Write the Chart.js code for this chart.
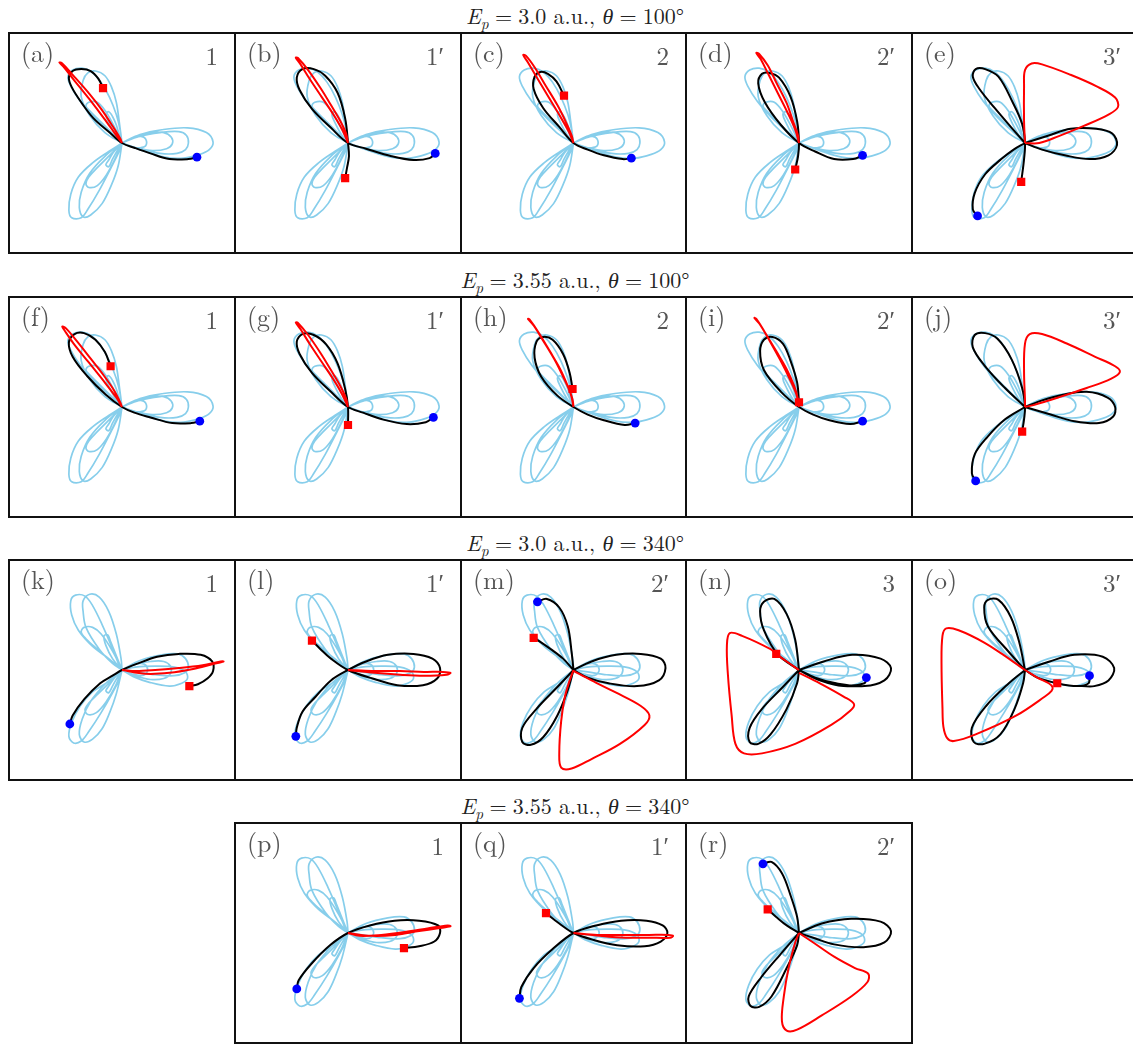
<!DOCTYPE html>
<html><head><meta charset="utf-8">
<script src="https://cdn.jsdelivr.net/npm/chart.js@4.4.1/dist/chart.umd.min.js"></script>
<style>
html,body{margin:0;padding:0;background:#fff;}
body{width:1133px;height:1046px;overflow:hidden;position:relative;font-family:'Latin Modern Roman','CMU Serif','Liberation Serif','DejaVu Serif',serif;}
canvas{position:absolute;}
.frame{position:absolute;border:2px solid #111;box-sizing:border-box;pointer-events:none;}
.lab{position:absolute;color:#555;font-size:26px;line-height:1;white-space:nowrap;}
.tag{position:absolute;color:#555;font-size:25px;line-height:1;text-align:right;width:50px;white-space:nowrap;}
.title{position:absolute;left:0;width:1150px;text-align:center;font-size:22px;line-height:24px;color:#222;white-space:nowrap;}
.title sub{font-size:0.7em;vertical-align:-0.3em;line-height:0;}
.title .eq{margin:0 0.28em;}
</style></head><body>
<script>
// ---------------- DATA ----------------
const panelIds  = ['a','b','c','d','e','f','g','h','i','j','k','l','m','n','o','p','q','r'];
const panelTags = ['1','1′','2','2′','3′','1','1′','2','2′','3′','1','1′','2′','3','3′','1','1′','2′'];
const fieldEp    = ['3.0','3.55','3.0','3.55'];
const fieldTheta = ['100','100','340','340'];

// background (light blue) petals, theta = 100 deg
const blue100 = [
  [0,0, 19,9, 42,14, 69,16, 89,11, 96,1, 92,-7, 82,-12, 65,-16, 45,-15, 22,-8, 0,0],
  [0,0, 18,7, 40,11, 60,12, 68,8, 70,0, 67,-7, 58,-11, 40,-11, 18,-6, 0,0],
  [0,0, 14,7, 30,11, 44,11, 52,6, 53,-1, 47,-6, 32,-8, 15,-5, 0,0],
  [0,0, 10,5, 20,7, 25,4, 25,-3, 19,-5, 10,-4, 0,0],
  [0,0, -14,13, -30,28, -44,44, -54,60, -57,70, -52,77, -42,79, -32,75, -22,64, -13,48, -6,30, -2,14, 0,0],
  [0,0, -3,23, -6,43, -11,59, -18,71, -28,76, -36,74, -41,66, -43,49, -34,29, -18,11, 0,0],
  [0,0, -11,11, -24,24, -34,34, -38,39, -35,43, -26,43, -17,33, -8,17, 0,0],
  [0,0, -3,9, -6,19, -10,28, -14,33, -17,30, -13,20, -7,9, 0,0],
  [0,0, -14,-9, -31,-21, -46,-36, -54,-54, -56,-71, -53,-79, -43,-79, -36,-70, -24,-50, -12,-27, -3,-9, 0,0],
  [0,0, -4,-24, -11,-44, -21,-64, -33,-76, -41,-78, -45,-68, -43,-52, -34,-32, -18,-14, 0,0],
  [0,0, -12,-12, -25,-25, -35,-36, -38,-43, -35,-47, -26,-45, -16,-33, -7,-16, 0,0],
  [0,0, -5,-5, -10,-11, -14,-18, -17,-23, -14,-25, -10,-17, -5,-8, 0,0]
];
// background (light blue) petals, theta = 340 deg
const blue340 = [
  [0,0, 19,10, 42,16, 59,17, 67,12, 70,3, 66,-3, 55,-6, 35,-5, 15,-2, 0,0],
  [0,0, 14,3, 35,4, 55,3, 67,-2, 69,-9, 63,-14, 50,-17, 29,-13, 12,-7, 0,0],
  [0,0, 14,6, 30,9, 44,9, 51,4, 51,-4, 44,-9, 30,-10, 14,-6, 0,0],
  [0,0, 10,5, 20,7, 26,4, 26,-3, 20,-6, 10,-4, 0,0],
  [0,0, -14,12, -31,25, -46,42, -53,58, -54,73, -49,79, -39,78, -31,68, -21,48, -11,25, -3,5, 0,0],
  [0,0, -1,12, -6,38, -14,62, -24,77, -34,80, -41,73, -41,62, -38,45, -24,22, -10,7, 0,0],
  [0,0, -12,10, -26,22, -38,33, -43,40, -40,45, -31,45, -22,38, -10,20, 0,0],
  [0,0, -4,10, -8,20, -12,30, -15,37, -19,36, -17,26, -10,12, 0,0],
  [0,0, -14,-12, -31,-23, -44,-38, -53,-55, -56,-70, -51,-77, -43,-75, -35,-65, -22,-45, -10,-24, -2,-8, 0,0],
  [0,0, -6,-25, -13,-45, -21,-62, -31,-73, -40,-76, -45,-68, -42,-52, -33,-33, -17,-14, 0,0],
  [0,0, -12,-12, -25,-25, -35,-35, -39,-42, -36,-47, -27,-45, -17,-34, -7,-17, 0,0],
  [0,0, -5,-5, -10,-11, -14,-17, -17,-22, -14,-24, -10,-17, -5,-8, 0,0]
];

// black trajectories (segments)
const black_a = [[79,-15, 70,-17, 50,-17, 30,-11, 13,-5, 0,0, -13,11, -30,26, -43,43, -53,59, -56,69, -52,76, -43,78, -33,76, -25,68, -20,58]];
const black_b = [[92,-11, 86,-16, 69,-18, 46,-14, 19,-6, 0,0, -18,16, -38,36, -51,56, -54,69, -48,78, -36,78, -24,71, -11,53, -3,26, 0,0, 1,-14, -1,-26, -3,-37]];
const black_c = [[61,-16, 52,-17, 32,-13, 15,-7, 0,0, -15,17, -32,37, -42,57, -41,70, -35,75, -27,73, -18,65, -10,50]];
const black_d = [[67,-13, 57,-17, 37,-17, 17,-9, 0,0, -19,19, -36,43, -43,63, -39,73, -31,74, -21,69, -9,49, -2,23, 0,0, -1,-14, -4,-28]];
const black_e = [[-50,-77, -55,-70, -53,-53, -42,-33, -25,-17, -12,-7, 0,0],
                 [0,0, 18,-7, 42,-13, 68,-17, 88,-13, 97,-2, 92,10, 75,15, 48,15, 25,8, 0,0],
                 [0,0, -15,17, -32,37, -48,57, -55,70, -52,78, -42,78, -28,70, -13,43, -3,20, 0,0, -1,-17, -4,-41]];
const black_f = [[82,-15, 73,-17, 53,-17, 30,-11, 13,-6, 0,0, -17,13, -37,33, -52,53, -56,68, -50,77, -40,78, -28,71, -18,58, -12,43]];
const black_g = [[90,-11, 82,-16, 62,-18, 36,-13, 16,-6, 0,0, -18,16, -38,36, -51,56, -54,69, -48,77, -36,76, -23,66, -11,46, -3,19, 0,0, 0,-19]];
const black_h = [[65,-17, 54,-19, 32,-14, 15,-8, 0,0, -17,12, -34,32, -41,52, -39,69, -32,74, -22,71, -11,56, -4,36, -1,19]];
const black_i = [[67,-15, 54,-18, 32,-14, 15,-8, 0,0, -19,16, -37,39, -41,59, -37,71, -28,74, -17,67, -9,49, -2,26, 0,5]];
const black_j = [[-52,-78, -56,-70, -53,-50, -40,-32, -21,-13, 0,0],
                 [0,0, 27,-8, 52,-15, 78,-17, 93,-10, 95,0, 87,10, 65,16, 40,13, 18,7, 0,0],
                 [0,0, -21,20, -42,43, -55,63, -53,76, -42,78, -29,72, -14,50, -3,20, 0,0, -1,-13, -3,-26]];
const black_k = [[-55,-57, -52,-48, -40,-31, -23,-14, -10,-6, 0,0, 17,7, 37,14, 60,17, 83,16, 95,9, 96,-1, 90,-9, 80,-15, 71,-17]];
const black_l = [[-55,-70, -54,-61, -48,-44, -34,-28, -18,-11, 0,0, 19,9, 42,16, 69,17, 89,12, 97,2, 94,-9, 79,-16, 52,-16, 26,-9, 0,0, -18,12, -29,22, -38,31]];
const black_m = [[-38,72, -28,75, -15,66, -6,46, -2,19, 0,0],
                 [0,0, 19,9, 45,16, 71,17, 92,12, 97,2, 90,-11, 67,-17, 37,-14, 15,-8, 0,0],
                 [0,0, -17,-18, -39,-41, -54,-61, -54,-76, -45,-79, -32,-71, -17,-48, -6,-21, 0,0],
                 [0,0, -11,12, -24,22, -37,31, -42,34]];
const black_n = [[71,-8, 69,-14, 47,-17, 22,-11, 0,0],
                 [0,0, -22,16, -37,42, -41,62, -37,72, -26,75, -13,59, -4,32, 0,0],
                 [0,0, 26,9, 56,16, 86,12, 97,2, 90,-11, 69,-17, 39,-14, 17,-8, 0,0],
                 [0,0, -17,-18, -39,-41, -52,-61, -52,-76, -43,-78, -30,-68, -13,-41, -2,-14, 0,0],
                 [0,0, -13,9, -24,17]];
const black_o = [[68,-6, 67,-14, 55,-17, 34,-14, 13,-8, 0,0],
                 [0,0, 26,9, 52,16, 82,14, 94,2, 88,-11, 73,-17, 60,-17],
                 [0,0, -17,19, -39,46, -43,66, -39,74, -28,74, -15,56, -6,29, 0,0],
                 [0,0, -17,-14, -41,-38, -56,-61, -54,-76, -43,-78, -26,-68, -11,-41, -2,-14, 0,0]];
const black_p = [[-54,-59, -52,-50, -39,-33, -19,-13, 0,0, 23,8, 49,13, 75,13, 95,8, 97,0, 91,-9, 75,-14, 59,-16]];
const black_q = [[-57,-69, -55,-57, -42,-37, -22,-17, 0,0, 24,8, 50,13, 77,13, 94,8, 99,0, 92,-9, 75,-14, 46,-13, 20,-7, 0,0, -15,10, -29,21]];
const black_r = [[-38,73, -29,75, -18,63, -9,40, -2,17, 0,0],
                 [0,0, 24,10, 55,15, 86,12, 97,2, 90,-10, 68,-15, 37,-12, 15,-5, 0,0],
                 [0,0, -20,-23, -40,-47, -53,-67, -51,-77, -42,-78, -29,-67, -13,-37, -2,-13, 0,0],
                 [0,0, -13,8, -24,17, -33,25]];

// red trajectories
const red_a = [[0,0, -6,8, -19,26, -35,47, -51,67, -62,81, -66,85, -63,84, -52,72, -37,55, -22,36, -10,18, -2,5, 0,0]];
const red_b = [[0,0, -6,14, -16,31, -28,49, -40,67, -50,83, -55,90, -53,90, -42,77, -29,58, -18,40, -8,23, -2,10, 0,0]];
const red_c = [[0,0, -5,12, -14,28, -26,48, -38,68, -48,85, -53,93, -50,92, -41,80, -29,60, -17,40, -8,22, -2,8, 0,0]];
const red_d = [[0,0, -4,14, -12,32, -22,52, -32,72, -40,88, -45,95, -42,94, -33,82, -23,62, -13,42, -6,22, -1,8, 0,0]];
const red_e = [[0,0, -1,23, -1,60, 0,77, 7,84, 18,83, 48,72, 75,60, 95,48, 98,38, 88,30, 62,18, 35,7, 15,0, 0,0]];
const red_f = [[0,0, -6,10, -19,27, -35,47, -51,67, -60,80, -63,85, -59,83, -48,70, -33,51, -19,33, -8,17, -2,5, 0,0]];
const red_g = [[0,0, -6,13, -16,30, -28,48, -40,66, -50,82, -55,89, -53,89, -42,76, -29,57, -18,39, -8,22, -2,9, 0,0]];
const red_h = [[0,0, -3,14, -10,30, -20,50, -32,70, -42,86, -48,93, -46,92, -37,79, -25,59, -14,40, -6,22, -1,8, 0,0]];
const red_i = [[0,0, -3,14, -10,30, -20,50, -31,70, -41,87, -47,94, -45,93, -36,79, -24,59, -13,40, -5,22, -1,8, 0,0]];
const red_j = [[0,0, 0,7, -1,37, 0,67, 5,77, 18,77, 44,67, 74,53, 95,43, 100,37, 91,30, 65,20, 35,10, 9,2, 0,0]];
const red_k = [[0,0, 25,-4, 50,-3, 75,1, 95,6, 107,9, 104,9, 85,5, 60,2, 35,0, 15,-1, 0,0]];
const red_l = [[0,0, 25,-1, 55,-1, 80,-2, 100,-2, 108,-3, 104,-5, 80,-6, 55,-5, 28,-3, 0,0]];
const red_m = [[0,0, -4,-11, -9,-28, -13,-54, -15,-88, -13,-103, -2,-104, 19,-94, 49,-78, 75,-58, 80,-48, 71,-38, 45,-24, 19,-11, 0,-1]];
const red_n = [[0,0, -13,9, -24,17, -30,22, -60,36, -73,39, -76,26, -75,-4, -71,-48, -67,-78, -58,-88, -39,-88, -4,-78, 34,-58, 54,-43, 58,-36, 47,-28, 22,-14, 0,-3]];
const red_o = [[0,0, 13,-8, 25,-14, 29,-18, 28,-22, 21,-28, -9,-48, -52,-68, -75,-75, -82,-72, -86,-60, -87,-40, -88,6, -87,36, -83,44, -70,42, -43,29, -17,12, 0,0]];
const red_p = [[0,0, 25,-3, 50,-2, 75,2, 95,5, 108,7, 105,8, 85,5, 60,1, 35,-2, 12,-3, 0,0]];
const red_q = [[0,0, 25,-2, 55,-2, 80,-2, 100,-2, 105,-3, 102,-5, 80,-5, 55,-5, 28,-3, 0,0]];
const red_r = [[0,0, -4,-10, -11,-37, -16,-67, -18,-93, -13,-103, -2,-102, 24,-87, 55,-67, 72,-52, 73,-43, 59,-37, 37,-25, 15,-10, 0,0]];

// start (blue dot) and end (red square) of each highlighted trajectory
const startPts = [[79,-15],[92,-11],[61,-16],[67,-13],[-50,-77],[82,-15],[90,-11],[65,-17],[67,-15],[-52,-78],
                  [-55,-57],[-55,-70],[-38,72],[71,-8],[68,-6],[-54,-59],[-57,-69],[-38,73]];
const endPts   = [[-20,58],[-3,-37],[-10,50],[-4,-28],[-4,-41],[-12,43],[0,-19],[-1,19],[0,5],[-3,-26],
                  [71,-17],[-38,31],[-42,34],[-24,17],[34,-14],[59,-16],[-29,21],[-33,25]];

const blackAll = [black_a,black_b,black_c,black_d,black_e,black_f,black_g,black_h,black_i,black_j,black_k,black_l,black_m,black_n,black_o,black_p,black_q,black_r];
const redAll   = [red_a,red_b,red_c,red_d,red_e,red_f,red_g,red_h,red_i,red_j,red_k,red_l,red_m,red_n,red_o,red_p,red_q,red_r];

// ---------------- LAYOUT ----------------
const colEdges = [9,235,461,686,912,1138];
const rowTops  = [33,297,560,823];
const PH = 220;
const panelCol = [0,1,2,3,4, 0,1,2,3,4, 0,1,2,3,4, 1,2,3];
const panelRow = [0,0,0,0,0, 1,1,1,1,1, 2,2,2,2,2, 3,3,3];

function segsToPts(segs){
  const pts=[];
  segs.forEach((s,k)=>{
    if(k) pts.push({x:null,y:null});
    for(let i=0;i<s.length;i+=2) pts.push({x:s[i],y:s[i+1]});
  });
  return pts;
}

// titles
rowTops.forEach((t,r)=>{
  const d=document.createElement('div');
  d.className='title';
  d.style.top=(t-30)+'px';
  d.innerHTML='<i>E</i><sub><i>p</i></sub><span class="eq">=</span>'+fieldEp[r]+' a.u., <i>θ</i><span class="eq">=</span>'+fieldTheta[r]+'°';
  document.body.appendChild(d);
});

panelIds.forEach((id,i)=>{
  const c=panelCol[i], r=panelRow[i];
  const x0=colEdges[c], w=colEdges[c+1]-x0, y0=rowTops[r];
  const cv=document.createElement('canvas');
  cv.width=w; cv.height=PH;
  cv.style.left=x0+'px'; cv.style.top=y0+'px';
  cv.style.width=w+'px'; cv.style.height=PH+'px';
  document.body.appendChild(cv);

  const petals = r<2 ? blue100 : blue340;
  new Chart(cv,{
    type:'scatter',
    data:{datasets:[
      {data:[{x:endPts[i][0],y:endPts[i][1]}], pointStyle:'rect', pointRadius:5.8, backgroundColor:'#ff0000', borderWidth:0, showLine:false, order:0},
      {data:[{x:startPts[i][0],y:startPts[i][1]}], pointStyle:'circle', pointRadius:4.4, backgroundColor:'#0000ff', borderWidth:0, showLine:false, order:1},
      {data:segsToPts(redAll[i]), showLine:true, borderColor:'#ff0000', borderWidth:2, pointRadius:0, tension:0.35, fill:false, order:2},
      {data:segsToPts(blackAll[i]), showLine:true, borderColor:'#000000', borderWidth:2, pointRadius:0, tension:0.35, fill:false, order:3},
      {data:segsToPts(petals), showLine:true, borderColor:'#87ceeb', borderWidth:1.7, pointRadius:0, tension:0.35, fill:false, order:4}
    ]},
    options:{
      responsive:false, animation:false, devicePixelRatio:1, events:[],
      layout:{padding:0},
      plugins:{legend:{display:false}, tooltip:{enabled:false}, title:{display:false}},
      scales:{
        x:{type:'linear', min:-w/2, max:w/2, display:false},
        y:{type:'linear', min:-PH/2, max:PH/2, display:false}
      }
    }
  });

  const fr=document.createElement('div');
  fr.className='frame';
  fr.style.left=(x0-1)+'px'; fr.style.top=(y0-1)+'px';
  fr.style.width=(w+2)+'px'; fr.style.height=(PH+2)+'px';
  document.body.appendChild(fr);

  const lb=document.createElement('div');
  lb.className='lab';
  lb.style.left=(x0+12)+'px'; lb.style.top=(y0+6)+'px';
  lb.textContent='('+id+')';
  document.body.appendChild(lb);

  const tg=document.createElement('div');
  tg.className='tag';
  tg.style.left=(x0+w-17-50)+'px'; tg.style.top=(y0+9)+'px';
  tg.textContent=panelTags[i];
  document.body.appendChild(tg);
});
</script>
</body></html>
